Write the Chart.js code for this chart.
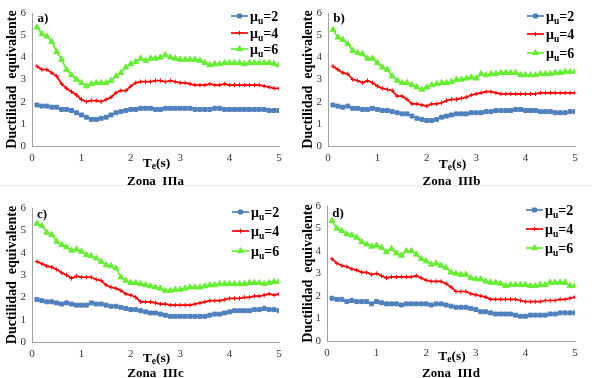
<!DOCTYPE html>
<html>
<head>
<meta charset="utf-8">
<script src="https://cdn.jsdelivr.net/npm/chart.js@4/dist/chart.umd.min.js"></script>
<style>
    html, body { margin: 0; padding: 0; background: #fff; }
    body { width: 592px; height: 378px; position: relative; overflow: hidden; font-family: "Liberation Serif", "Times New Roman", serif; }
    .panel { position: absolute; width: 296px; height: 189px; }
    .panel canvas { position: absolute; left: 0; top: 0; }
    .lbl { position: absolute; font-weight: bold; color: #000; white-space: nowrap; transform: translate(-50%, -50%); line-height: 1; }
    .lbl sub { font-size: 0.7em; vertical-align: -0.25em; }
    .sep { position: absolute; left: 0; width: 592px; height: 1px; background: #ececec; }
</style>
</head>
<body>
<div class="panel" id="pa" style="left:0;top:0"><canvas id="ca" width="296" height="189"></canvas></div>
<div class="panel" id="pb" style="left:296px;top:0"><canvas id="cb" width="296" height="189"></canvas></div>
<div class="panel" id="pc" style="left:0;top:189px"><canvas id="cc" width="296" height="189"></canvas></div>
<div class="panel" id="pd" style="left:296px;top:189px"><canvas id="cd" width="296" height="189"></canvas></div>
<div class="sep" style="top:185px"></div>

<script>
// Periods (s)
const periods = [0.1,0.2,0.3,0.4,0.5,0.6,0.7,0.8,0.9,1.0,
    1.1,1.2,1.3,1.4,1.5,1.6,1.7,1.8,1.9,2.0,
    2.1,2.2,2.3,2.4,2.5,2.6,2.7,2.8,2.9,3.0,
    3.1,3.2,3.3,3.4,3.5,3.6,3.7,3.8,3.9,4.0,
    4.1,4.2,4.3,4.4,4.5,4.6,4.7,4.8,4.9,5.0];

const xTicks = [0, 1, 2, 3, 4, 5];
const yTicks = [0, 1, 2, 3, 4, 5, 6];
const seriesNames = ['2', '4', '6'];

// Zona IIIa
const a2 = [1.85,1.8,1.8,1.75,1.75,1.65,1.65,1.6,1.5,1.4, 1.3,1.2,1.2,1.25,1.3,1.4,1.5,1.55,1.6,1.65, 1.65,1.7,1.7,1.7,1.65,1.65,1.7,1.7,1.7,1.7, 1.7,1.7,1.65,1.65,1.65,1.65,1.7,1.7,1.65,1.65, 1.65,1.65,1.65,1.65,1.65,1.65,1.65,1.6,1.6,1.6];
const a4 = [3.6,3.45,3.45,3.3,3.15,2.8,2.6,2.45,2.3,2.1, 2.0,2.05,2.05,2.0,2.1,2.2,2.4,2.5,2.5,2.7, 2.85,2.9,2.9,2.9,2.95,2.95,2.9,2.95,2.9,2.85, 2.85,2.8,2.75,2.75,2.75,2.8,2.75,2.75,2.8,2.75, 2.75,2.75,2.75,2.75,2.75,2.75,2.7,2.65,2.6,2.6];
const a6 = [5.35,5.05,4.95,4.7,4.25,3.9,3.45,3.2,3.0,2.85, 2.7,2.8,2.85,2.85,2.85,2.95,3.15,3.3,3.55,3.7, 3.8,3.95,3.85,3.95,3.95,4.0,4.1,4.0,3.95,3.9, 3.9,3.9,3.9,3.85,3.75,3.65,3.7,3.7,3.75,3.75, 3.75,3.75,3.7,3.75,3.75,3.75,3.75,3.75,3.7,3.65];

// Zona IIIb
const b2 = [1.85,1.8,1.75,1.8,1.7,1.7,1.65,1.65,1.7,1.65, 1.6,1.6,1.55,1.5,1.45,1.45,1.35,1.25,1.2,1.15, 1.15,1.2,1.3,1.35,1.4,1.45,1.45,1.45,1.5,1.5, 1.5,1.55,1.55,1.6,1.6,1.6,1.6,1.65,1.65,1.6, 1.6,1.6,1.55,1.55,1.55,1.5,1.5,1.5,1.55,1.55];
const b4 = [3.6,3.45,3.3,3.25,3.0,2.95,2.85,2.95,2.85,2.7, 2.6,2.55,2.5,2.25,2.25,2.1,1.9,1.9,1.85,1.8, 1.9,1.9,1.95,2.05,2.1,2.1,2.15,2.2,2.3,2.35, 2.4,2.45,2.45,2.4,2.35,2.35,2.35,2.35,2.35,2.35, 2.35,2.35,2.4,2.4,2.4,2.4,2.4,2.4,2.4,2.4];
const b6 = [5.25,4.9,4.8,4.6,4.3,4.2,4.15,3.95,3.95,3.75, 3.55,3.45,3.15,2.95,2.85,2.85,2.75,2.65,2.55,2.65, 2.75,2.8,2.85,2.85,2.9,3.0,3.0,3.05,3.1,3.05, 3.25,3.2,3.25,3.25,3.3,3.3,3.3,3.3,3.2,3.2, 3.2,3.2,3.25,3.25,3.25,3.3,3.3,3.35,3.35,3.35];

// Zona IIIc
const c2 = [1.9,1.85,1.8,1.8,1.75,1.7,1.75,1.7,1.65,1.65, 1.65,1.75,1.7,1.7,1.65,1.6,1.6,1.55,1.5,1.45, 1.45,1.4,1.35,1.3,1.3,1.25,1.2,1.15,1.15,1.15, 1.15,1.15,1.15,1.15,1.15,1.2,1.25,1.25,1.3,1.35, 1.4,1.4,1.4,1.4,1.45,1.45,1.5,1.45,1.45,1.4];
const c4 = [3.6,3.5,3.4,3.35,3.25,3.1,3.0,2.85,2.95,2.9, 2.9,2.9,2.8,2.75,2.55,2.45,2.4,2.3,2.15,2.1, 2.0,1.8,1.8,1.8,1.75,1.7,1.7,1.65,1.65,1.65, 1.65,1.65,1.7,1.75,1.8,1.85,1.85,1.85,1.9,1.95, 1.95,1.95,2.0,2.0,2.05,2.05,2.1,2.15,2.1,2.15];
const c6 = [5.3,5.2,4.9,4.8,4.5,4.35,4.25,4.1,4.15,4.05, 3.9,3.85,3.75,3.6,3.45,3.4,3.3,2.9,2.75,2.65, 2.65,2.6,2.55,2.5,2.45,2.4,2.3,2.3,2.35,2.35, 2.4,2.45,2.45,2.45,2.5,2.55,2.55,2.6,2.6,2.6, 2.6,2.6,2.6,2.65,2.65,2.65,2.6,2.65,2.7,2.7];

// Zona IIId
const d2 = [1.9,1.85,1.85,1.75,1.8,1.75,1.75,1.75,1.65,1.75, 1.7,1.65,1.65,1.65,1.6,1.65,1.65,1.65,1.65,1.65, 1.6,1.65,1.65,1.6,1.55,1.5,1.5,1.5,1.45,1.4, 1.3,1.3,1.25,1.2,1.2,1.2,1.2,1.15,1.1,1.1, 1.15,1.15,1.15,1.15,1.2,1.2,1.25,1.25,1.25,1.25];
const d4 = [3.65,3.45,3.35,3.3,3.2,3.15,3.05,3.05,2.95,3.0, 2.9,2.8,2.85,2.85,2.85,2.85,2.85,2.9,2.8,2.7, 2.65,2.65,2.65,2.55,2.4,2.2,2.2,2.2,2.1,2.05, 2.0,1.95,1.85,1.85,1.85,1.85,1.85,1.85,1.8,1.75, 1.75,1.75,1.75,1.8,1.8,1.8,1.85,1.85,1.9,1.95];
const d6 = [5.35,5.0,4.9,4.75,4.7,4.6,4.4,4.3,4.2,4.25, 4.15,3.95,4.1,3.9,3.8,4.0,4.0,3.85,3.65,3.55, 3.4,3.45,3.35,3.25,3.05,3.0,2.95,2.95,2.8,2.75, 2.75,2.65,2.6,2.6,2.55,2.45,2.5,2.5,2.5,2.5, 2.45,2.45,2.5,2.5,2.6,2.6,2.6,2.6,2.45,2.45];

const serif = '"Liberation Serif", "Times New Roman", serif';
const W = 296, H = 189;

// series look (blue squares, red crosses, green triangles)
const styles = [
    { color: '#4f81bd', point: 'rect', radius: 2.8 },
    { color: '#ff0000', point: 'cross', radius: 2.2 },
    { color: '#66ee33', point: 'triangle', radius: 3.4 }
];

// Legend with subscript "u", drawn on the canvas
const muLegend = {
    id: 'muLegend',
    afterDraw(chart, args, opts) {
        const ctx = chart.ctx;
        chart.data.datasets.forEach((ds, i) => {
            const x = opts.x, y = opts.ys[i];
            ctx.save();
            ctx.strokeStyle = ds.borderColor;
            ctx.lineWidth = ds.borderWidth;
            ctx.beginPath();
            ctx.moveTo(x, y);
            ctx.lineTo(x + 17, y);
            ctx.stroke();
            ctx.fillStyle = ds.pointBackgroundColor;
            ctx.strokeStyle = ds.pointBorderColor;
            ctx.lineWidth = 1;
            Chart.helpers.drawPoint(ctx, { pointStyle: ds.pointStyle, radius: ds.pointRadius, borderWidth: 1, rotation: 0 }, x + 8.5, y);
            ctx.fillStyle = '#000';
            ctx.textBaseline = 'alphabetic';
            ctx.font = 'bold 14px ' + serif;
            let tx = x + 19;
            ctx.fillText('\u03bc', tx, y + 5);
            tx += ctx.measureText('\u03bc').width;
            ctx.font = 'bold 9.5px ' + serif;
            ctx.fillText('u', tx, y + 7.5);
            tx += ctx.measureText('u').width;
            ctx.font = 'bold 14px ' + serif;
            ctx.fillText('=' + seriesNames[i], tx, y + 5);
            ctx.restore();
        });
    }
};

function makePanel(canvasId, s2, s4, s6, box, legend) {
    const values = [s2, s4, s6];
    const datasets = values.map((vals, i) => ({
        label: 'mu=' + seriesNames[i],
        data: periods.map((t, k) => ({ x: t, y: vals[k] })),
        borderColor: styles[i].color,
        backgroundColor: styles[i].color,
        pointBackgroundColor: styles[i].color,
        pointBorderColor: styles[i].color,
        pointStyle: styles[i].point,
        pointRadius: styles[i].radius,
        pointBorderWidth: 1,
        borderWidth: 1.7,
        tension: 0,
        fill: false
    }));

    const tickFont = { family: serif, size: 11 };

    return new Chart(document.getElementById(canvasId).getContext('2d'), {
        type: 'line',
        data: { datasets: datasets },
        options: {
            responsive: false,
            animation: false,
            layout: { padding: { left: 0, right: W - box.right, top: box.top, bottom: 0 } },
            plugins: {
                legend: { display: false },
                tooltip: { enabled: false },
                muLegend: legend
            },
            scales: {
                x: {
                    type: 'linear',
                    min: 0,
                    max: 5,
                    grid: { display: false, drawTicks: false },
                    border: { color: '#a0a0a0', width: 1 },
                    ticks: { font: tickFont, color: '#333', padding: 6, maxRotation: 0 },
                    afterBuildTicks: s => { s.ticks = xTicks.map(v => ({ value: v })); },
                    afterFit: s => { s.height = H - box.bottom; }
                },
                y: {
                    min: 0,
                    max: 6,
                    grid: { display: false, drawTicks: false },
                    border: { color: '#a0a0a0', width: 1 },
                    ticks: { font: tickFont, color: '#333', padding: 6 },
                    afterBuildTicks: s => { s.ticks = yTicks.map(v => ({ value: v })); },
                    afterFit: s => { s.width = box.left; },
                    title: {
                        display: true,
                        text: 'Ductilidad  equivalente',
                        color: '#000',
                        font: { family: serif, size: 14, weight: 'bold' },
                        padding: { top: 4, bottom: 0 }
                    }
                }
            }
        },
        plugins: [muLegend]
    });
}

// text overlays: panel letter, x title, zone name
function addLabels(panelId, box, letter, letterPos, teY, zoneY, zone) {
    const p = document.getElementById(panelId);
    const cx = (box.left + box.right) / 2;
    const items = [
        { html: letter, x: letterPos[0], y: letterPos[1], size: 13 },
        { html: 'T<sub>e</sub>(s)', x: cx + 1, y: teY, size: 13.5 },
        { html: zone, x: cx, y: zoneY, size: 13 }
    ];
    items.forEach(it => {
        const d = document.createElement('div');
        d.className = 'lbl';
        d.style.left = it.x + 'px';
        d.style.top = it.y + 'px';
        d.style.fontSize = it.size + 'px';
        d.innerHTML = it.html;
        p.appendChild(d);
    });
}

const boxA = { left: 32, right: 279, top: 13, bottom: 146 };
const boxB = { left: 32, right: 279, top: 13, bottom: 146 };
const boxC = { left: 32, right: 279, top: 19, bottom: 153 };
const boxD = { left: 31, right: 279, top: 17, bottom: 152 };

makePanel('ca', a2, a4, a6, boxA, { x: 231, ys: [16, 33, 49] });
makePanel('cb', b2, b4, b6, boxB, { x: 231, ys: [16, 34, 53] });
makePanel('cc', c2, c4, c6, boxC, { x: 232, ys: [23, 42, 62] });
makePanel('cd', d2, d4, d6, boxD, { x: 230, ys: [21, 40, 59] });

addLabels('pa', boxA, 'a)', [43, 17], 164, 180, 'Zona&nbsp; IIIa');
addLabels('pb', boxB, 'b)', [43, 17], 165, 180, 'Zona&nbsp; IIIb');
addLabels('pc', boxC, 'c)', [42, 24], 170, 183, 'Zona&nbsp; IIIc');
addLabels('pd', boxD, 'd)', [42, 23], 168, 183, 'Zona&nbsp; IIId');
</script>
</body>
</html>
